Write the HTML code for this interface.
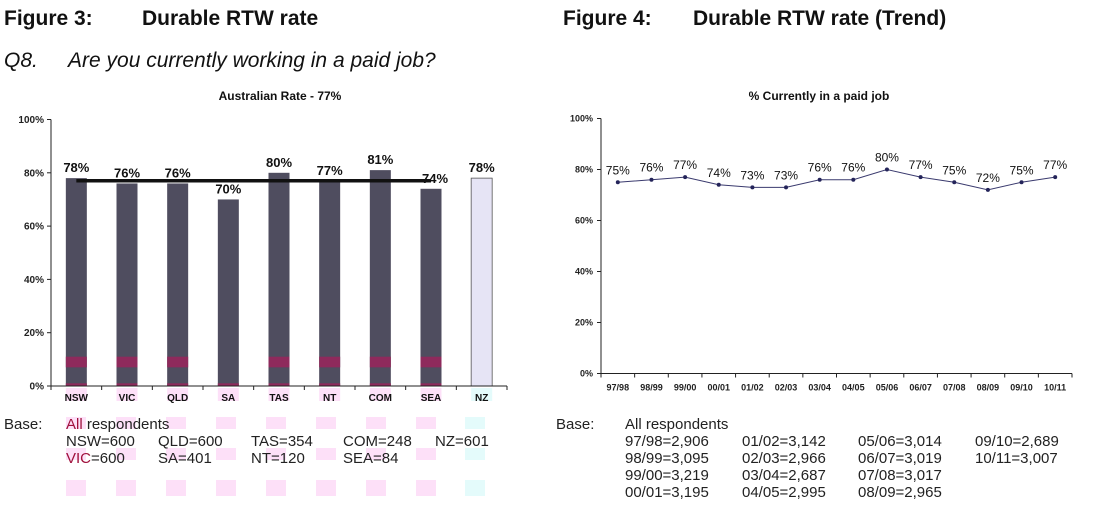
<!DOCTYPE html>
<html><head><meta charset="utf-8"><style>
body{margin:0;background:#fff;width:1099px;height:512px;overflow:hidden;font-family:"Liberation Sans",Arial,sans-serif;}
svg{position:absolute;left:0;top:0}
</style></head><body>
<svg width="1099" height="512" xmlns="http://www.w3.org/2000/svg" font-family="Liberation Sans, Arial, sans-serif">
<g>
<text x="4" y="25" font-size="21" font-weight="bold" fill="#111">Figure 3:</text>
<text x="142" y="25" font-size="21" font-weight="bold" fill="#111">Durable RTW rate</text>
<text x="4" y="67" font-size="21" font-style="italic" fill="#111">Q8.</text>
<text x="68" y="67" font-size="21" font-style="italic" fill="#111">Are you currently working in a paid job?</text>
<text x="563" y="25" font-size="21" font-weight="bold" fill="#111">Figure 4:</text>
<text x="693" y="25" font-size="21" font-weight="bold" fill="#111">Durable RTW rate (Trend)</text>
</g>
<g id="bar-chart"></g>
<g id="line-chart"></g>
<g font-size="15" fill="#222">
<g fill="#fde0f8"><rect x="66" y="417" width="20" height="12"/><rect x="116" y="417" width="20" height="12"/><rect x="166" y="417" width="20" height="12"/><rect x="216" y="417" width="20" height="12"/><rect x="266" y="417" width="20" height="12"/><rect x="316" y="417" width="20" height="12"/><rect x="366" y="417" width="20" height="12"/><rect x="416" y="417" width="20" height="12"/>
<rect x="66" y="448" width="20" height="12"/><rect x="116" y="448" width="20" height="12"/><rect x="166" y="448" width="20" height="12"/><rect x="216" y="448" width="20" height="12"/><rect x="266" y="448" width="20" height="12"/><rect x="316" y="448" width="20" height="12"/><rect x="366" y="448" width="20" height="12"/><rect x="416" y="448" width="20" height="12"/>
<rect x="66" y="480" width="20" height="16"/><rect x="116" y="480" width="20" height="16"/><rect x="166" y="480" width="20" height="16"/><rect x="216" y="480" width="20" height="16"/><rect x="266" y="480" width="20" height="16"/><rect x="316" y="480" width="20" height="16"/><rect x="366" y="480" width="20" height="16"/><rect x="416" y="480" width="20" height="16"/></g>
<g fill="#e4fbfb"><rect x="465" y="417" width="20" height="12"/><rect x="465" y="448" width="20" height="12"/><rect x="465" y="480" width="20" height="16"/></g>
<text x="4" y="429">Base:</text>
<text x="66" y="429"><tspan fill="#a0103c">All</tspan> respondents</text>
<text x="66" y="446">NSW=600</text><text x="158" y="446">QLD=600</text><text x="251" y="446">TAS=354</text><text x="343" y="446">COM=248</text><text x="435" y="446">NZ=601</text>
<text x="66" y="463"><tspan fill="#a0103c">VIC</tspan>=600</text><text x="158" y="463">SA=401</text><text x="251" y="463">NT=120</text><text x="343" y="463">SEA=84</text>
</g>
<g font-size="15" fill="#222">
<text x="556" y="429">Base:</text>
<text x="625" y="429">All respondents</text>
<text x="625" y="446">97/98=2,906</text><text x="742" y="446">01/02=3,142</text><text x="858" y="446">05/06=3,014</text><text x="975" y="446">09/10=2,689</text>
<text x="625" y="463">98/99=3,095</text><text x="742" y="463">02/03=2,966</text><text x="858" y="463">06/07=3,019</text><text x="975" y="463">10/11=3,007</text>
<text x="625" y="480">99/00=3,219</text><text x="742" y="480">03/04=2,687</text><text x="858" y="480">07/08=3,017</text>
<text x="625" y="497">00/01=3,195</text><text x="742" y="497">04/05=2,995</text><text x="858" y="497">08/09=2,965</text>
</g>
</svg>
<script>
const barCats=["NSW","VIC","QLD","SA","TAS","NT","COM","SEA","NZ"];
const barVals=[78,76,76,70,80,77,81,74,78];
const avgRate=77;
const yTicks=[0,20,40,60,80,100];
const trendCats=["97/98","98/99","99/00","00/01","01/02","02/03","03/04","04/05","05/06","06/07","07/08","08/09","09/10","10/11"];
const trendVals=[75,76,77,74,73,73,76,76,80,77,75,72,75,77];
const NS="http://www.w3.org/2000/svg";
function mk(p,t,a){const e=document.createElementNS(NS,t);for(const k in a)e.setAttribute(k,a[k]);p.appendChild(e);return e;}
(function(){
const g=document.getElementById('bar-chart');
const x0=51,x1=507,y0=386,y100=119.5;
const bw=(x1-x0)/barCats.length;
const ys=v=>y0-(y0-y100)*v/100;
const xc=i=>x0+bw*(i+0.5);
const t=mk(g,'text',{x:280,y:100,'font-size':12,'font-weight':'bold','text-anchor':'middle',fill:'#111'});t.textContent='Australian Rate - 77%';


yTicks.forEach(v=>{
 const y=ys(v);
 mk(g,'line',{x1:x0-4,x2:x0,y1:y,y2:y,stroke:'#222'});
 const l=mk(g,'text',{x:x0-7,y:y+3.5,'font-size':10,'font-weight':'bold','text-anchor':'end',fill:'#222'});l.textContent=v+'%';
 
 
});
barCats.forEach((c,i)=>{
 const v=barVals[i],x=xc(i),w=21,y=ys(v);
 const nz=c==='NZ';
 const r=mk(g,'rect',{x:x-w/2,y:y,width:w,height:y0-y,fill:nz?'#e6e4f5':'#4f4d5f',stroke:nz?'#555':'none','stroke-width':0.8});
 
 
 if(!nz&&c!=='SA'){mk(g,'rect',{x:x-w/2,y:ys(11),width:w,height:ys(7)-ys(11),fill:'#8e2a5c'});}
 if(!nz){mk(g,'rect',{x:x-w/2,y:ys(1),width:w,height:ys(0)-ys(1),fill:'#8e2a5c'});}
 mk(g,'rect',{x:x-w/2,y:y0+2,width:w,height:13,fill:nz?'#e4fbfb':'#fde0f8'});
 const dx=c==='SEA'?4:0;
 const vl=mk(g,'text',{x:x+dx,y:y-6,'font-size':13,'font-weight':'bold','text-anchor':'middle',fill:'#111'});vl.textContent=v+'%';
 
 
 const cl=mk(g,'text',{x:x,y:y0+15,'font-size':10,'font-weight':'bold','text-anchor':'middle',fill:'#111'});cl.textContent=c;
 
 
});
for(let i=0;i<=barCats.length;i++){mk(g,'line',{x1:x0+bw*i,x2:x0+bw*i,y1:y0,y2:y0+4,stroke:'#222'});}
const av=mk(g,'line',{x1:xc(0),x2:xc(7),y1:ys(avgRate),y2:ys(avgRate),stroke:'#111','stroke-width':3.5});


mk(g,'line',{x1:x0,x2:x0,y1:y100,y2:y0,stroke:'#222'});
mk(g,'line',{x1:x0,x2:x1,y1:y0,y2:y0,stroke:'#222'});
})();
(function(){
const g=document.getElementById('line-chart');
const x0=601,x1=1072,y0=373.5,y100=118.5;
const bw=(x1-x0)/trendCats.length;
const ys=v=>y0-(y0-y100)*v/100;
const xc=i=>x0+bw*(i+0.5);
const t=mk(g,'text',{x:819,y:100,'font-size':12,'font-weight':'bold','text-anchor':'middle',fill:'#111'});t.textContent='% Currently in a paid job';


yTicks.forEach(v=>{
 const y=ys(v);
 mk(g,'line',{x1:x0-4,x2:x0,y1:y,y2:y,stroke:'#222'});
 const l=mk(g,'text',{x:x0-8,y:y+3,'font-size':9,'font-weight':'bold','text-anchor':'end',fill:'#222'});l.textContent=v+'%';
 
 
});
for(let i=0;i<=trendCats.length;i++){mk(g,'line',{x1:x0+bw*i,x2:x0+bw*i,y1:y0,y2:y0+4,stroke:'#222'});}
mk(g,'line',{x1:x0,x2:x0,y1:y100,y2:y0,stroke:'#222'});
mk(g,'line',{x1:x0,x2:x1,y1:y0,y2:y0,stroke:'#222'});
const pts=trendVals.map((v,i)=>xc(i)+','+ys(v)).join(' ');
const pl=mk(g,'polyline',{points:pts,fill:'none',stroke:'#3a3a6e','stroke-width':1});


trendVals.forEach((v,i)=>{
 const c=mk(g,'circle',{cx:xc(i),cy:ys(v),r:2,fill:'#24245a'});
 
 
 const vl=mk(g,'text',{x:xc(i),y:ys(v)-8,'font-size':12,'text-anchor':'middle',fill:'#111'});vl.textContent=v+'%';
 
 
 const cl=mk(g,'text',{x:xc(i),y:y0+17,'font-size':9,'font-weight':'bold','text-anchor':'middle',fill:'#222'});cl.textContent=trendCats[i];
 
 
});
})();
</script>
</body></html>
